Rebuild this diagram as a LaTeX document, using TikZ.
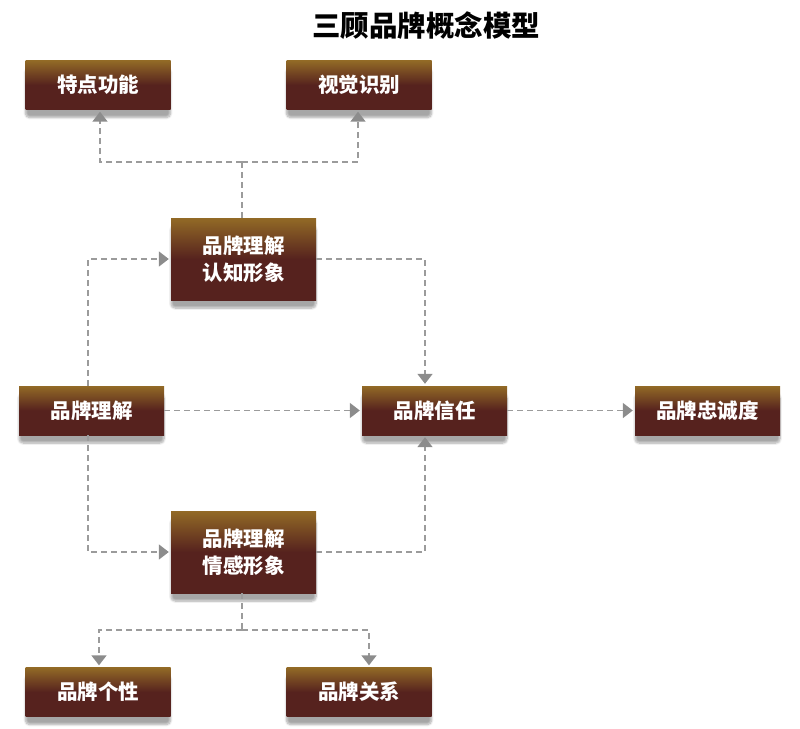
\documentclass[tikz,border=0pt]{standalone}
\usepackage{fontspec}
\setmainfont{Noto Sans CJK SC}
\usetikzlibrary{arrows.meta,shadows.blur}
\definecolor{bxtop}{RGB}{146,106,38}
\definecolor{bxbot}{RGB}{86,34,30}
\definecolor{lnc}{RGB}{155,155,155}
\definecolor{arc}{RGB}{140,140,140}
\begin{document}
\begin{tikzpicture}[x=1pt,y=-1pt,
  bx/.style={rectangle, inner sep=0pt, minimum width=145pt, minimum height=49pt,
    top color=bxtop, bottom color=bxbot, middle color=bxbot,
    text=white, font=\bfseries\fontsize{20.5}{27}\selectfont, align=center,
    blur shadow={shadow xshift=0pt, shadow yshift=-8pt, shadow blur steps=8, shadow blur extra rounding=4pt, shadow opacity=35}},
  tall/.style={minimum height=82pt},
  conn/.style={draw=lnc, line width=1.8pt, dash pattern=on 6pt off 4pt,
    -{Triangle[length=10pt,width=15pt,fill=arc,color=arc]}, shorten >=2pt},
  plain/.style={draw=lnc, line width=1.8pt, dash pattern=on 6pt off 4pt}]
\useasboundingbox (0,0) rectangle (800,728);
\node[font=\bfseries\fontsize{28.5}{32}\selectfont] (title) at (426,26) {三顾品牌概念模型};
\node[bx] (tdgn) at (98,85) {特点功能};
\node[bx] (sjsb) at (359,85) {视觉识别};
\node[bx,tall] (rz) at (243.5,259) {品牌理解\\认知形象};
\node[bx] (lj) at (91.5,410.5) {品牌理解};
\node[bx] (xr) at (434.5,410.5) {品牌信任};
\node[bx] (zc) at (707.5,410.5) {品牌忠诚度};
\node[bx,tall] (qg) at (243.5,552) {品牌理解\\情感形象};
\node[bx] (gx) at (98,692) {品牌个性};
\node[bx] (gxr) at (359,692) {品牌关系};
% top branch
\coordinate (tj) at (242,162);
\draw[plain] (rz.north -| tj) -- (tj);
\draw[conn] (tj) -| ([xshift=2pt]tdgn.south);
\draw[conn] (tj) -| ([xshift=-1pt]sjsb.south);
% left to cognitive
\draw[conn] ([xshift=-3.5pt]lj.north) |- (rz.west);
% cognitive to trust
\draw[conn] (rz.east) -| ([xshift=-9.5pt]xr.north);
% left to trust
\draw[conn] (lj.east) -- (xr.west);
% trust to loyalty
\draw[conn] (xr.east) -- (zc.west);
% left to emotional
\draw[conn] ([xshift=-3.5pt]lj.south) |- (qg.west);
% emotional to trust
\draw[conn] (qg.east) -| ([xshift=-9.5pt]xr.south);
% bottom branch
\coordinate (bj) at (242,630);
\draw[plain] (qg.south -| bj) -- (bj);
\draw[conn] (bj) -| ([xshift=1pt]gx.north);
\draw[conn] (bj) -| ([xshift=10pt]gxr.north);
\end{tikzpicture}
\end{document}
